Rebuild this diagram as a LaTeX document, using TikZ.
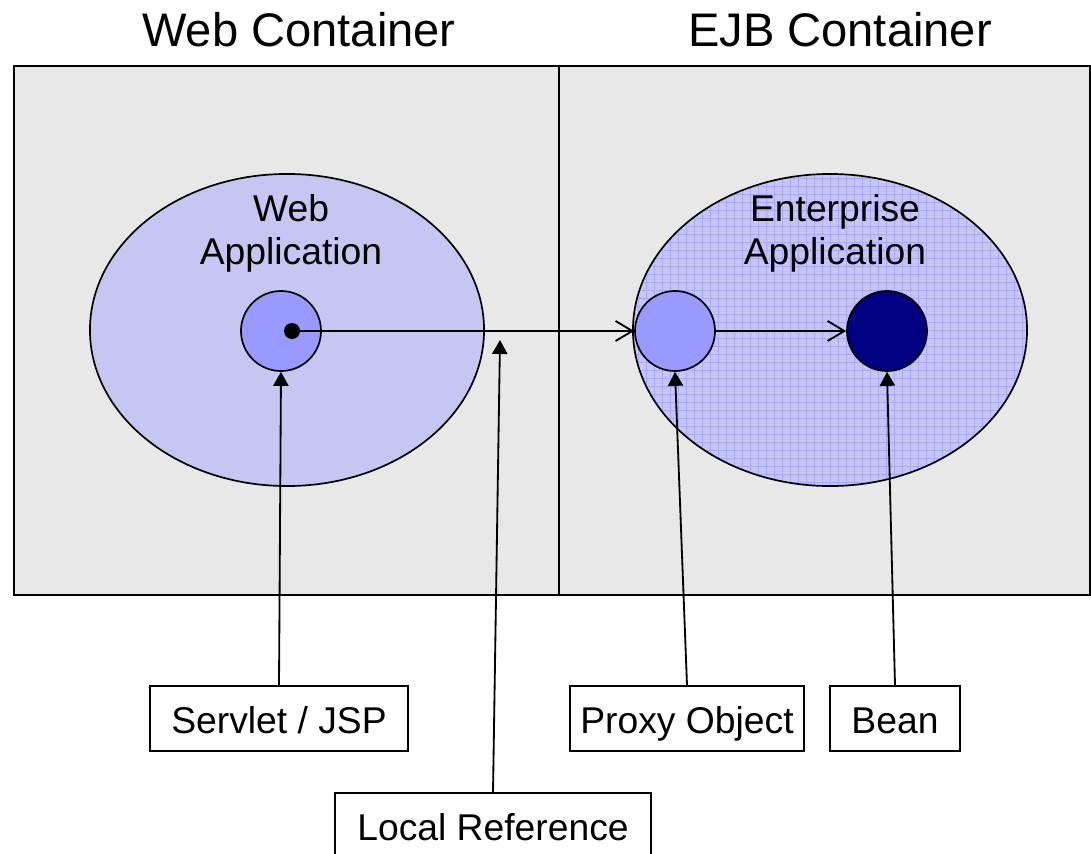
\documentclass[tikz,border=0pt]{standalone}
\usepackage{fontspec}
\setmainfont{Liberation Sans}
\usetikzlibrary{arrows.meta,shapes.geometric}
\definecolor{contgray}{HTML}{E8E8E8}
\definecolor{applav}{HTML}{C6C6F2}
\definecolor{objblue}{HTML}{9999FF}
\definecolor{beannavy}{HTML}{000080}

\begin{document}
\begin{tikzpicture}[
    x=0.025cm, y=-0.025cm,
    container/.style={draw, line width=1.5pt, fill=contgray, inner sep=0pt},
    app/.style={draw, ellipse, line width=1.2pt, fill=applav,
                minimum width=9.85cm, minimum height=7.8cm, inner sep=0pt},
    obj/.style={draw, circle, line width=1.2pt, minimum size=2cm, inner sep=0pt},
    label/.style={draw, line width=1.2pt, fill=white, minimum height=1.625cm,
                  text height=21pt, text depth=0pt, font=\fontsize{26.5}{30}\selectfont},
    title/.style={font=\fontsize{33.5}{38}\selectfont},
    pointer/.style={-{Triangle[length=0.35cm, width=0.38cm]}, line width=1.3pt},
    call/.style={-{Straight Barb[length=0.42cm, width=0.5cm, line width=1.3pt]}, line width=1.3pt},
]
\useasboundingbox (0,0) rectangle (1091,854);

% containers
\node[container, minimum width=13.625cm, minimum height=13.225cm] (webbox) at (286.5,330.5) {};
\node[container, minimum width=13.275cm, minimum height=13.225cm] (ejbbox) at (824.5,330.5) {};
\node[title] (webtitle) at (299,30) {Web Container};
\node[title] (ejbtitle) at (840,30) {EJB Container};

% applications
\node[app] (webapp) at (287,330) {};
\node[app, path picture={
    \draw[objblue!85, line width=0.6pt, step=0.2cm]
      (path picture bounding box.south west) grid (path picture bounding box.north east);}]
      (entapp) at (830,330) {};
\node[align=center, font=\fontsize{26.5}{30.5}\selectfont] (webname) at (291,233) {Web\\Application};
\node[align=center, font=\fontsize{26.5}{30.5}\selectfont] (entname) at (835,233) {Enterprise\\Application};

% objects
\node[obj, fill=objblue] (servlet) at (281,331) {};
\node[circle, fill=black, minimum size=0.4cm, inner sep=0pt] (ref) at (292,331) {};
\node[obj, fill=objblue] (proxy) at (675,331) {};
\node[obj, fill=beannavy] (bean) at (887,331) {};

% labels
\node[label, minimum width=6.45cm] (servletlbl) at (279,718.5) {Servlet / JSP};
\node[label, minimum width=5.85cm] (proxylbl) at (687,718.5) {Proxy Object};
\node[label, minimum width=3.25cm] (beanlbl) at (895,718.5) {Bean};
\node[label, minimum width=7.9cm] (reflbl) at (493,825.5) {Local Reference};
\coordinate (reftip) at (500,340);

% connectors
\draw[call] (ref) -- (proxy);
\draw[call] (proxy) -- (bean);
\draw[pointer] (servletlbl.north) -- (servlet.south);
\draw[pointer] (proxylbl.north) -- (proxy.south);
\draw[pointer] (beanlbl.north) -- (bean.south);
\draw[pointer] (reflbl.north) -- (reftip);
\end{tikzpicture}
\end{document}
